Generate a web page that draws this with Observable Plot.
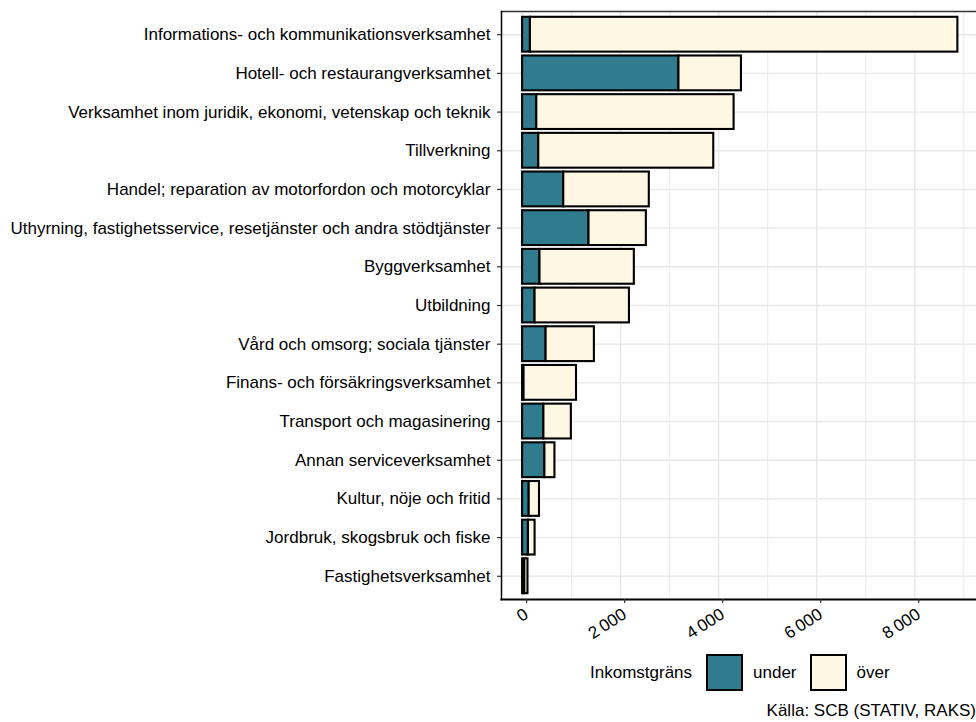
<!DOCTYPE html>
<html>
<head>
<meta charset="utf-8">
<script src="https://cdn.jsdelivr.net/npm/d3@7"></script>
<script src="https://cdn.jsdelivr.net/npm/@observablehq/plot@0.6"></script>
<style>
  html, body { margin: 0; padding: 0; background: #fff; }
  body { width: 976px; height: 722px; overflow: hidden; font-family: "Liberation Sans", Arial, sans-serif; }
  #chart svg { display: block; }
  #legend { display: flex; align-items: center; position: absolute; left: 590px; top: 654px; font-size: 17px; color: #000; }
  #legend .sw { width: 37px; height: 37px; box-sizing: border-box; border: 2px solid #000; }
  #caption { position: absolute; right: 0px; top: 701px; font-size: 17px; color: #000; white-space: nowrap; }
</style>
</head>
<body>
<div id="chart"></div>
<div id="legend"></div>
<div id="caption">Källa: SCB (STATIV, RAKS)</div>
<script>
const categories = [
  "Informations- och kommunikationsverksamhet",
  "Hotell- och restaurangverksamhet",
  "Verksamhet inom juridik, ekonomi, vetenskap och teknik",
  "Tillverkning",
  "Handel; reparation av motorfordon och motorcyklar",
  "Uthyrning, fastighetsservice, resetjänster och andra stödtjänster",
  "Byggverksamhet",
  "Utbildning",
  "Vård och omsorg; sociala tjänster",
  "Finans- och försäkringsverksamhet",
  "Transport och magasinering",
  "Annan serviceverksamhet",
  "Kultur, nöje och fritid",
  "Jordbruk, skogsbruk och fiske",
  "Fastighetsverksamhet"
];
const underValues = [160, 3190, 290, 330, 840, 1355, 355, 255, 480, 30, 435, 455, 135, 120, 45];
const overValues  = [8720, 1275, 4025, 3570, 1745, 1170, 1925, 1925, 985, 1070, 560, 205, 210, 135, 65];
const groups = ["under", "över"];
const groupColors = ["#307B8D", "#FEF7E4"];
const legendTitle = "Inkomstgräns";
const xTicks = [0, 2000, 4000, 6000, 8000];
const xMinorTicks = [1000, 3000, 5000, 7000, 9000];
const xDomain = [-430, 9260];

const data = [];
categories.forEach((c, i) => {
  data.push({cat: c, group: groups[0], value: underValues[i]});
  data.push({cat: c, group: groups[1], value: overValues[i]});
});

const sv = d3.formatLocale({decimal: ",", thousands: "\u2009", grouping: [3], currency: ["", " kr"]});
const fmt = sv.format(",d");

const plot = Plot.plot({
  width: 976,
  height: 650,
  marginLeft: 501,
  marginRight: 0,
  marginTop: 11,
  marginBottom: 51,
  style: {fontFamily: "'Liberation Sans', Arial, sans-serif", fontSize: "17px", color: "#000", background: "#fff"},
  x: {domain: xDomain, axis: null, label: null},
  y: {domain: categories, paddingInner: 0.1, paddingOuter: 0.15, round: false, axis: null, label: null},
  color: {domain: groups, range: groupColors},
  marks: [
    Plot.gridX(xMinorTicks, {stroke: "#ebebeb", strokeOpacity: 1, strokeWidth: 1.1}),
    Plot.gridX(xTicks, {stroke: "#e8e8e8", strokeOpacity: 1, strokeWidth: 1.4}),
    Plot.gridY({stroke: "#e8e8e8", strokeOpacity: 1, strokeWidth: 1.4}),
    Plot.barX(data, Plot.stackX({y: "cat", x: "value", fill: "group", stroke: "#000", strokeWidth: 2.1})),
    Plot.frame({anchor: "top", stroke: "#333", strokeWidth: 1.5}),
    Plot.frame({anchor: "left", stroke: "#000", strokeWidth: 1.5}),
    Plot.frame({anchor: "bottom", stroke: "#000", strokeWidth: 2.2}),
    Plot.axisY({label: null, tickSize: 4, tickPadding: 7, stroke: "#333", strokeWidth: 1.2, fill: "#000", fontSize: 17}),
    Plot.axisX({label: null, ticks: xTicks, tickFormat: fmt, tickSize: 4, tickPadding: 9, tickRotate: -33, dx: 4, stroke: "#333", strokeWidth: 1.2, fill: "#000", fontSize: 17})
  ]
});
document.getElementById("chart").appendChild(plot);

const legend = document.getElementById("legend");
const t = document.createElement("span");
t.textContent = legendTitle;
t.style.marginRight = "14px";
legend.appendChild(t);
groups.forEach((g, i) => {
  const sw = document.createElement("div");
  sw.className = "sw";
  sw.style.background = groupColors[i];
  legend.appendChild(sw);
  const lab = document.createElement("span");
  lab.textContent = g;
  lab.style.marginLeft = "10px";
  lab.style.marginRight = i === 0 ? "13px" : "0";
  legend.appendChild(lab);
});
</script>
</body>
</html>
